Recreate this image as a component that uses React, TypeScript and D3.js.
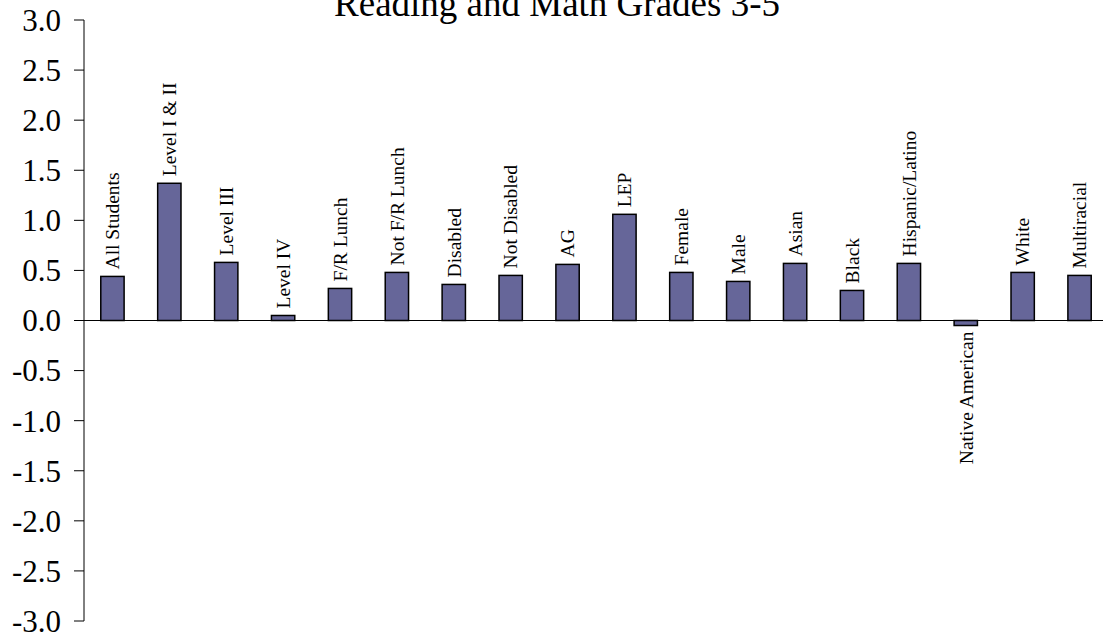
import React from 'react';
import * as d3 from 'd3';

const categories = [
  'All Students', 'Level I & II', 'Level III', 'Level IV', 'F/R Lunch', 'Not F/R Lunch',
  'Disabled', 'Not Disabled', 'AG', 'LEP', 'Female', 'Male', 'Asian', 'Black',
  'Hispanic/Latino', 'Native American', 'White', 'Multiracial',
];
const values = [
  0.44, 1.37, 0.58, 0.05, 0.32, 0.48, 0.36, 0.45, 0.56, 1.06, 0.48, 0.39, 0.57, 0.30,
  0.57, -0.05, 0.48, 0.45,
];
const yTicks = [3.0, 2.5, 2.0, 1.5, 1.0, 0.5, 0.0, -0.5, -1.0, -1.5, -2.0, -2.5, -3.0];
const title = 'Reading and Math Grades 3-5';

function App() {
  const width = 1103;
  const height = 638;
  const left = 84;
  const right = 1108; // chart runs past the window edge
  const top = 20;
  const bottom = 621;

  const x = d3.scaleBand<string>()
    .domain(categories)
    .range([left, right])
    .paddingInner(0.59)
    .paddingOuter(0.295);

  const y = d3.scaleLinear().domain([-3, 3]).range([bottom, top]);
  const font = '"Liberation Serif", "Times New Roman", serif';
  // plain hyphen for negatives, like the original
  const fmt = (t: number) => d3.format('.1f')(t).replace('\u2212', '-');

  return (
    <svg width={width} height={height} style={{ position: 'absolute', left: 0, top: 0 }}>
      <text x={557} y={16} textAnchor="middle" fontFamily={font} fontSize={37}>{title}</text>

      {/* y axis */}
      <line x1={left} x2={left} y1={y(3)} y2={y(-3)} stroke="black" strokeWidth={1} />
      {yTicks.map(t => (
        <g key={t}>
          <line x1={left - 10} x2={left} y1={y(t)} y2={y(t)} stroke="black" strokeWidth={1} />
          <text x={61} y={y(t)} dy="0.35em" textAnchor="end" fontFamily={font} fontSize={31}>
            {fmt(t)}
          </text>
        </g>
      ))}

      {/* bars */}
      {categories.map((c, i) => {
        const v = values[i];
        const x0 = x(c)!;
        const yTop = y(Math.max(0, v));
        const yBot = y(Math.min(0, v));
        const cx = x0 + x.bandwidth() / 2;
        return (
          <g key={c}>
            <rect x={x0} y={yTop} width={x.bandwidth()} height={yBot - yTop}
              fill="#666699" stroke="black" strokeWidth={1.5} />
            {v >= 0 ? (
              <text transform={`translate(${cx},${yTop - 7}) rotate(-90)`} dy="0.35em"
                textAnchor="start" fontFamily={font} fontSize={19.5}>{c}</text>
            ) : (
              <text transform={`translate(${cx},${yBot + 6}) rotate(-90)`} dy="0.35em"
                textAnchor="end" fontFamily={font} fontSize={19.5}>{c}</text>
            )}
          </g>
        );
      })}

      {/* zero line */}
      <line x1={left} x2={right} y1={y(0)} y2={y(0)} stroke="black" strokeWidth={1} />
    </svg>
  );
}

export default App;
